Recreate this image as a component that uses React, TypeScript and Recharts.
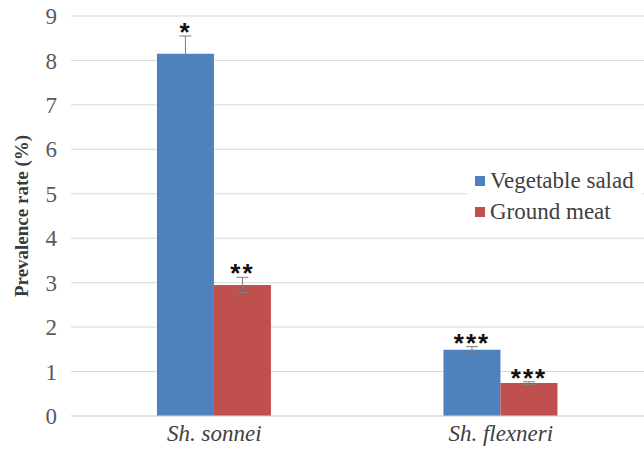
import { BarChart, Bar, XAxis, YAxis, CartesianGrid, Legend, ErrorBar, LabelList } from 'recharts';

const species = ['Sh. sonnei', 'Sh. flexneri'];
const vegetableSalad = [8.15, 1.49];
const vegetableErr = [0.4, 0.07];
const vegetableStars = ['*', '***'];
const groundMeat = [2.95, 0.74];
const meatErr = [0.17, 0.03];
const meatStars = ['**', '***'];
const yTicks = [0, 1, 2, 3, 4, 5, 6, 7, 8, 9];

const data = species.map((s, i) => ({
  name: s,
  veg: vegetableSalad[i],
  vegErr: vegetableErr[i],
  vegStar: vegetableStars[i],
  meat: groundMeat[i],
  meatErr: meatErr[i],
  meatStar: meatStars[i],
}));

const SERIF = '"Liberation Serif", "Times New Roman", serif';

// stars drawn just above the error bar cap
const starLabel = (errKey: string) => (props: any) => {
  const { x, y, width, height, value, index } = props;
  const row = data[index] as any;
  const barVal = errKey === 'vegErr' ? row.veg : row.meat;
  const errPx = (height * row[errKey]) / barVal;
  return (
    <text
      x={x + width / 2}
      y={y - errPx + 5}
      textAnchor="middle"
      fontFamily='"Liberation Sans", Arial, sans-serif'
      fontWeight="bold"
      fontSize={26}
      letterSpacing={2}
      fill="#111"
    >
      {value}
    </text>
  );
};

const legendContent = () => (
  <div
    style={{
      width: 'max-content',
      background: '#fff',
      padding: '4px 8px 4px 8px',
      fontFamily: SERIF,
      fontSize: 23,
      color: '#404040',
    }}
  >
    {[
      { label: 'Vegetable salad', color: '#4F81BD' },
      { label: 'Ground meat', color: '#C0504D' },
    ].map((it) => (
      <div key={it.label} style={{ display: 'flex', alignItems: 'center', height: 31 }}>
        <span style={{ flexShrink: 0, width: 10, height: 10, background: it.color, marginRight: 5, display: 'inline-block' }} />
        {it.label}
      </div>
    ))}
  </div>
);

const yLabel = (props: any) => {
  const { viewBox } = props;
  const cy = viewBox.y + viewBox.height / 2;
  return (
    <text
      x={21}
      y={cy}
      transform={`rotate(-90, 21, ${cy})`}
      textAnchor="middle"
      dominantBaseline="central"
      fontFamily={SERIF}
      fontWeight="bold"
      fontSize={19}
      fill="#3a3a3a"
    >
      Prevalence rate (%)
    </text>
  );
};

export default function App() {
  return (
    <div style={{ position: 'absolute', left: 0, top: 0, background: '#fff' }}>
      <BarChart
        width={644}
        height={455}
        data={data}
        margin={{ top: 16, right: 0, bottom: 0, left: 0 }}
        barCategoryGap="30%"
        barGap={0}
      >
        <CartesianGrid vertical={false} stroke="#D9D9D9" />
        <XAxis
          dataKey="name"
          height={39}
          tickLine={false}
          axisLine={{ stroke: '#D9D9D9' }}
          tick={{ fontFamily: SERIF, fontStyle: 'italic', fontSize: 23, fill: '#404040' }}
          tickMargin={3}
        />
        <YAxis
          width={71}
          domain={[0, 9]}
          ticks={yTicks}
          tickLine={false}
          axisLine={false}
          tickMargin={8}
          tick={{ fontFamily: SERIF, fontSize: 23, fill: '#595959' }}
          label={{ content: yLabel }}
        />
        <Legend
          layout="vertical"
          content={legendContent}
          wrapperStyle={{ position: 'absolute', left: 467, top: 161, width: 0, height: 0, overflow: 'visible' }}
        />
        <Bar dataKey="veg" fill="#4F81BD" isAnimationActive={false}>
          <ErrorBar dataKey="vegErr" width={6} stroke="#7F7F7F" strokeWidth={1} />
          <LabelList dataKey="vegStar" content={starLabel('vegErr')} />
        </Bar>
        <Bar dataKey="meat" fill="#C0504D" isAnimationActive={false}>
          <ErrorBar dataKey="meatErr" width={6} stroke="#7F7F7F" strokeWidth={1} />
          <LabelList dataKey="meatStar" content={starLabel('meatErr')} />
        </Bar>
      </BarChart>
    </div>
  );
}
